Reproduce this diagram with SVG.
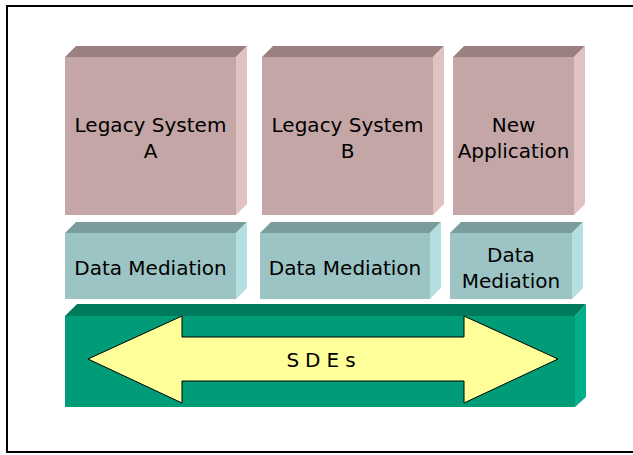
<svg xmlns="http://www.w3.org/2000/svg" width="633" height="455" viewBox="0 0 633 455">
  <style>
    .lbl { font-family: "Comic Sans MS", "DejaVu Sans", sans-serif; font-size: 20px; fill: #000; text-anchor: middle; }
    .sys-front { fill: #c4a6a6; }
    .sys-top { fill: #9a8080; }
    .sys-side { fill: #e0c2c2; }
    .med-front { fill: #9cc4c4; }
    .med-top { fill: #7a9c9c; }
    .med-side { fill: #b2e0e0; }
    .bus-front { fill: #009c78; }
    .bus-top { fill: #007a5c; }
    .bus-side { fill: #00b088; }
    .arrow { fill: #ffff99; stroke: #000; stroke-width: 1; stroke-linejoin: miter; }
  </style>

  <rect x="0" y="0" width="633" height="455" fill="#fff"/>
  <!-- outer frame -->
  <rect x="7" y="6" width="640" height="446" fill="none" stroke="#000" stroke-width="2"/>

  <!-- application tier -->
  <g id="legacy-a">
    <polygon class="sys-top" points="65,57 76,46 247,46 236,57"/>
    <polygon class="sys-side" points="236,57 247,46 247,204 236,215"/>
    <rect class="sys-front" x="65" y="57" width="171" height="158"/>
    <text class="lbl" x="150.5" y="132">Legacy System</text>
    <text class="lbl" x="150.5" y="158">A</text>
  </g>
  <g id="legacy-b">
    <polygon class="sys-top" points="262,57 273,46 444,46 433,57"/>
    <polygon class="sys-side" points="433,57 444,46 444,204 433,215"/>
    <rect class="sys-front" x="262" y="57" width="171" height="158"/>
    <text class="lbl" x="347.5" y="132">Legacy System</text>
    <text class="lbl" x="347.5" y="158">B</text>
  </g>
  <g id="new-app">
    <polygon class="sys-top" points="453,57 464,46 585,46 574,57"/>
    <polygon class="sys-side" points="574,57 585,46 585,204 574,215"/>
    <rect class="sys-front" x="453" y="57" width="121" height="158"/>
    <text class="lbl" x="513.5" y="132">New</text>
    <text class="lbl" x="513.5" y="158">Application</text>
  </g>

  <!-- mediation tier -->
  <g id="mediation-a">
    <polygon class="med-top" points="65,233 76,222 247,222 236,233"/>
    <polygon class="med-side" points="236,233 247,222 247,288 236,299"/>
    <rect class="med-front" x="65" y="233" width="171" height="66"/>
    <text class="lbl" x="150.5" y="275">Data Mediation</text>
  </g>
  <g id="mediation-b">
    <polygon class="med-top" points="260,233 271,222 441,222 430,233"/>
    <polygon class="med-side" points="430,233 441,222 441,288 430,299"/>
    <rect class="med-front" x="260" y="233" width="170" height="66"/>
    <text class="lbl" x="345" y="275">Data Mediation</text>
  </g>
  <g id="mediation-c">
    <polygon class="med-top" points="450,233 461,222 583,222 572,233"/>
    <polygon class="med-side" points="572,233 583,222 583,288 572,299"/>
    <rect class="med-front" x="450" y="233" width="122" height="66"/>
    <text class="lbl" x="511" y="262">Data</text>
    <text class="lbl" x="511" y="288">Mediation</text>
  </g>

  <!-- shared data exchange bus -->
  <g id="sdes">
    <polygon class="bus-top" points="65,316 77,304 586,304 575,316"/>
    <polygon class="bus-side" points="575,316 586,304 586,397 575,407"/>
    <rect class="bus-front" x="65" y="316" width="510" height="91"/>
    <polygon class="arrow" points="88,359 182,316 182,337 464,337 464,316 558,359 464,403 464,381 182,381 182,403"/>
    <text class="lbl" x="324" y="367" letter-spacing="6">SDEs</text>
  </g>
</svg>
